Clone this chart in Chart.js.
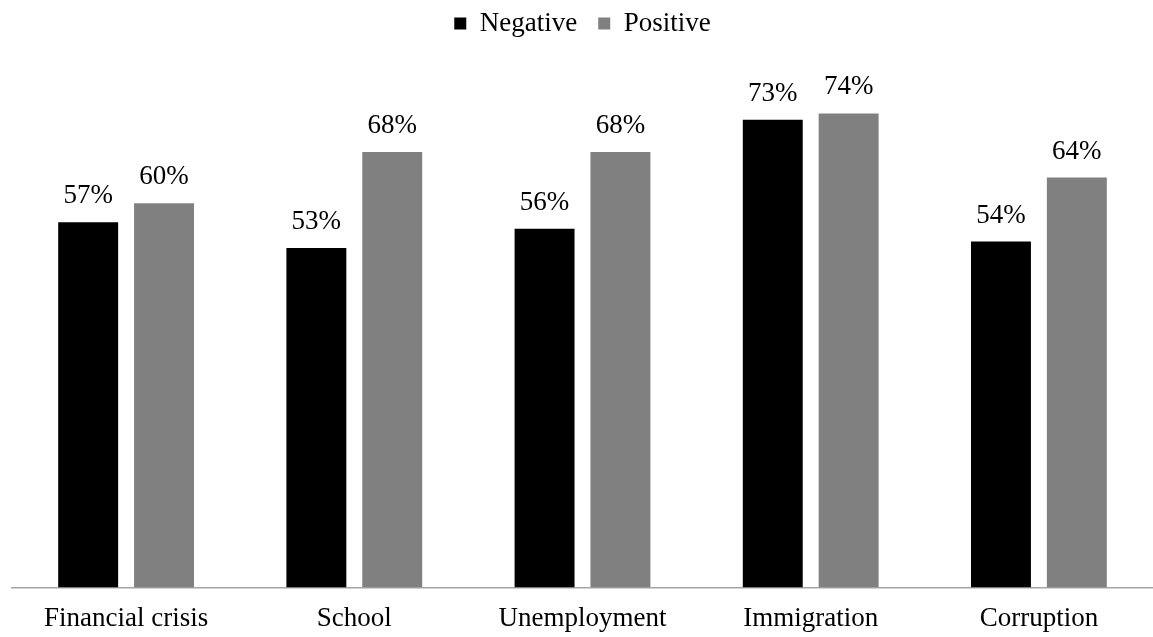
<!DOCTYPE html>
<html>
<head>
<meta charset="utf-8">
<script src="https://cdn.jsdelivr.net/npm/chart.js@4/dist/chart.umd.min.js"></script>
<style>
  html, body { margin: 0; padding: 0; background: #fff; }
  #wrap { width: 1153px; height: 637px; }
</style>
</head>
<body>
<div id="wrap"><canvas id="chart"></canvas></div>
<script>
// data
const categories = ['Financial crisis', 'School', 'Unemployment', 'Immigration', 'Corruption']
const negative = [57, 53, 56, 73, 54]
const positive = [60, 68, 68, 74, 64]

const serif = "'Liberation Serif', 'Times New Roman', serif"

// percent labels over each bar
const barLabels = {
  id: 'barLabels',
  afterDatasetsDraw(chart) {
    const ctx = chart.ctx
    ctx.save()
    ctx.font = '27px ' + serif
    ctx.fillStyle = '#000'
    ctx.textAlign = 'center'
    ctx.textBaseline = 'alphabetic'
    chart.data.datasets.forEach((ds, i) => {
      chart.getDatasetMeta(i).data.forEach((bar, j) => {
        ctx.fillText(ds.data[j] + '%', bar.x, bar.y - 19)
      })
    })
    ctx.restore()
  }
}

// leave more room under the legend
const legendGap = {
  id: 'legendGap',
  beforeInit(chart) {
    const fit = chart.legend.fit
    chart.legend.fit = function () {
      fit.bind(chart.legend)()
      this.height += 28
    }
  }
}

// eslint-disable-next-line no-unused-vars
const barChart = new Chart(document.getElementById('chart'), {
  type: 'bar',
  data: {
    labels: categories,
    datasets: [
      { label: 'Negative', backgroundColor: '#000000', data: negative },
      { label: 'Positive', backgroundColor: '#808080', data: positive },
    ],
  },
  options: {
    responsive: true,
    maintainAspectRatio: false,
    animation: false,
    layout: { padding: { left: 12, right: 0, top: -11, bottom: -13 } },
    datasets: {
      bar: { categoryPercentage: 0.665, barPercentage: 0.79 },
    },
    plugins: {
      legend: {
        position: 'top',
        labels: {
          boxWidth: 12,
          boxHeight: 12,
          color: '#000',
          padding: 21,
          font: { family: serif, size: 27 },
        },
      },
      tooltip: { enabled: false },
    },
    scales: {
      x: {
        grid: { display: false, drawTicks: false },
        border: { display: true, color: '#a6a6a6', width: 1.5 },
        ticks: { color: '#000', padding: 15, font: { family: serif, size: 27 } },
      },
      y: {
        display: false,
        min: 0,
        max: 80,
      },
    },
  },
  plugins: [barLabels, legendGap],
})
</script>
</body>
</html>
